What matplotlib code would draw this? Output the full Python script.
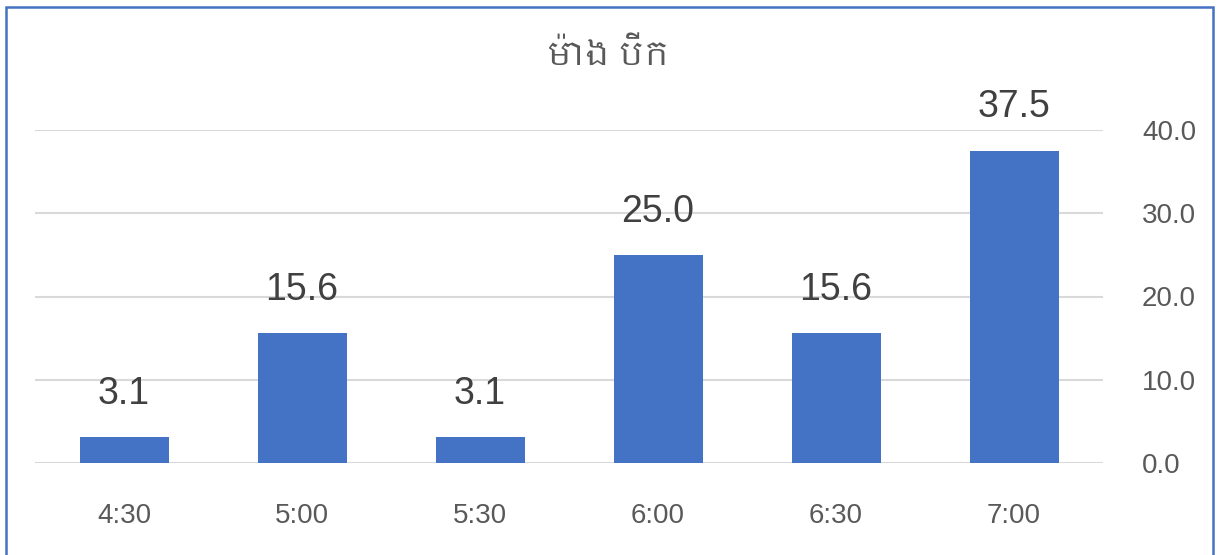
import matplotlib
matplotlib.use("Agg")
import matplotlib.pyplot as plt
from matplotlib import font_manager
from matplotlib.patches import Rectangle

# data
categories = ["4:30", "5:00", "5:30", "6:00", "6:30", "7:00"]
values = [3.1, 15.6, 3.1, 25.0, 15.6, 37.5]
y_ticks = [0, 10, 20, 30, 40]
title = "ម៉ោង បើក"

# try to find something that can draw khmer, fall back otherwise
khmer = [f.name for f in font_manager.fontManager.ttflist if "khmer" in f.name.lower()]
title_family = khmer[:1] + ["Liberation Sans", "DejaVu Sans"]

plt.rcParams["font.family"] = ["Liberation Sans", "DejaVu Sans"]

fig = plt.figure(figsize=(12.17, 5.55), dpi=100)
ax = fig.add_axes([35 / 1217, 1 - 463 / 555, (1103 - 35) / 1217, (463 - 130) / 555])

x = range(len(categories))
bars = ax.bar(x, values, width=0.5, color="#4472C4", zorder=3)

for xi, v in zip(x, values):
    ax.annotate(f"{v:.1f}", (xi, v), xytext=(0, 24), textcoords="offset points",
                ha="center", va="baseline", fontsize=27, color="#404040",
                annotation_clip=False)

ax.set_xlim(-0.5, len(categories) - 0.5)
ax.set_ylim(0, 40)
ax.set_xticks(list(x))
ax.set_xticklabels(categories)
ax.set_yticks(y_ticks)
ax.set_yticklabels([f"{t:.1f}" for t in y_ticks])
ax.yaxis.tick_right()
ax.tick_params(axis="y", length=0, pad=28, labelsize=20, labelcolor="#595959")
ax.tick_params(axis="x", length=0, pad=29, labelsize=20, labelcolor="#595959")
for lab in ax.get_yticklabels():
    lab.set_y(lab.get_position()[1])
    lab.set_verticalalignment("center_baseline")
ax.grid(axis="y", color="#D9D9D9", linewidth=1.5, zorder=0)
for s in ax.spines.values():
    s.set_visible(False)

fig.text(0.5, 1 - 56 / 555, title, ha="center", va="center", fontsize=24,
         fontweight="bold", color="#595959", family=title_family)

# thin blue border around the chart
fig.patches.append(Rectangle((6 / 1217, -0.05), (1213 - 6) / 1217, 1.05 - 7 / 555,
                             transform=fig.transFigure, fill=False,
                             edgecolor="#4472C4", linewidth=1.8))

fig.savefig("out.png", dpi=100)
